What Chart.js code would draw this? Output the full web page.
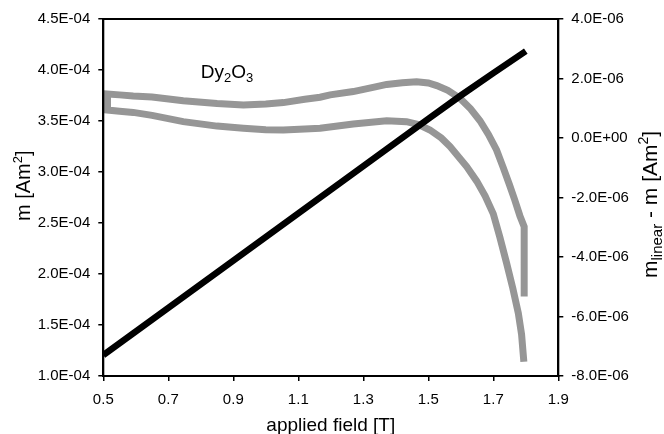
<!DOCTYPE html>
<html>
<head>
<meta charset="utf-8">
<script src="https://cdn.jsdelivr.net/npm/chart.js@4/dist/chart.umd.min.js"></script>
<style>
html,body{margin:0;padding:0;background:#fff;}
#wrap{width:664px;height:434px;}
</style>
</head>
<body>
<div id="wrap"><canvas id="c" width="664" height="434"></canvas></div>
<script>
// ---- data ----
const xTicks = [0.5, 0.7, 0.9, 1.1, 1.3, 1.5, 1.7, 1.9];
const leftTicks = [1.0e-4, 1.5e-4, 2.0e-4, 2.5e-4, 3.0e-4, 3.5e-4, 4.0e-4, 4.5e-4];
const rightTicks = [-8e-6, -6e-6, -4e-6, -2e-6, 0, 2e-6, 4e-6];

// measured moment m [Am^2] vs applied field [T]
const mField = [0.5, 0.7, 0.9, 1.1, 1.3, 1.5, 1.6, 1.7, 1.8];
const mValue = [1.205e-4, 1.668e-4, 2.131e-4, 2.594e-4, 3.057e-4, 3.52e-4, 3.75e-4, 3.97e-4, 4.185e-4];

// m_linear - m [Am^2] loop (path order: right end up, upper branch down in field, lower branch up in field)
const diffField = [1.795, 1.795, 1.782, 1.765, 1.750, 1.730, 1.710, 1.685, 1.659, 1.630, 1.598, 1.560, 1.526, 1.500, 1.464, 1.420, 1.372, 1.330, 1.269, 1.198, 1.167, 1.120, 1.054, 1.000, 0.931, 0.850, 0.746, 0.650, 0.592, 0.550, 0.513,
                   0.513, 0.550, 0.592, 0.650, 0.746, 0.850, 0.931, 1.000, 1.054, 1.120, 1.167, 1.269, 1.372, 1.433, 1.470, 1.505, 1.540, 1.567, 1.618, 1.649, 1.675, 1.700, 1.720, 1.741, 1.760, 1.777, 1.787, 1.794];
const diffValue = [-5.33e-6, -2.98e-6, -2.62e-6, -2.05e-6, -1.58e-6, -0.98e-6, -0.40e-6, 0.12e-6, 0.58e-6, 0.98e-6, 1.33e-6, 1.60e-6, 1.76e-6, 1.85e-6, 1.89e-6, 1.86e-6, 1.80e-6, 1.70e-6, 1.56e-6, 1.45e-6, 1.37e-6, 1.30e-6, 1.19e-6, 1.14e-6, 1.11e-6, 1.16e-6, 1.25e-6, 1.38e-6, 1.41e-6, 1.45e-6, 1.48e-6,
                   0.94e-6, 0.90e-6, 0.86e-6, 0.76e-6, 0.55e-6, 0.40e-6, 0.33e-6, 0.28e-6, 0.27e-6, 0.30e-6, 0.33e-6, 0.47e-6, 0.58e-6, 0.55e-6, 0.45e-6, 0.27e-6, 0.00e-6, -0.29e-6, -0.96e-6, -1.45e-6, -1.95e-6, -2.55e-6, -3.33e-6, -4.21e-6, -5.05e-6, -5.89e-6, -6.60e-6, -7.52e-6];

const sampleLabel = {field: 0.8, m: 3.92e-4};

// ---- helpers ----
const FONT = "'Liberation Sans', Arial, Helvetica, sans-serif";
function fmtE(v) {
  if (Math.abs(v) < 1e-12) return '0.0E+00';
  const s = v.toExponential(1);
  const parts = s.split('e');
  const sign = parts[1][0] === '-' ? '-' : '+';
  const digits = parts[1].replace(/[+-]/, '');
  return parts[0] + 'E' + sign + digits.padStart(2, '0');
}
function pts(xs, ys) { return xs.map((x, i) => ({x: x, y: ys[i]})); }

function drawRuns(ctx, runs, x, y) {
  let cx = x;
  for (const r of runs) {
    ctx.font = r.size + 'px ' + FONT;
    ctx.fillText(r.t, cx, y + (r.dy || 0));
    cx += ctx.measureText(r.t).width;
  }
  return cx - x;
}
function runsWidth(ctx, runs) {
  let w = 0;
  for (const r of runs) { ctx.font = r.size + 'px ' + FONT; w += ctx.measureText(r.t).width; }
  return w;
}

const textPlugin = {
  id: 'texts',
  afterDraw(chart) {
    const ctx = chart.ctx;
    const a = chart.chartArea;
    ctx.save();
    // frame
    ctx.strokeStyle = '#000';
    ctx.lineWidth = 2;
    ctx.strokeRect(a.left, a.top, a.right - a.left, a.bottom - a.top);
    ctx.fillStyle = '#000';
    ctx.textBaseline = 'alphabetic';
    ctx.textAlign = 'left';
    // x title
    ctx.font = '19px ' + FONT;
    const xt = 'applied field [T]';
    const xw = ctx.measureText(xt).width;
    ctx.fillText(xt, (a.left + a.right) / 2 - xw / 2, 430.5);
    // left title (rotated)
    const lRuns = [{t: 'm [Am', size: 20}, {t: '2', size: 13, dy: -8}, {t: ']', size: 20}];
    ctx.save();
    ctx.translate(30, 221);
    ctx.rotate(-Math.PI / 2);
    drawRuns(ctx, lRuns, 0, 0);
    ctx.restore();
    // right title (rotated)
    const rRuns = [{t: 'm', size: 21}, {t: 'linear', size: 15, dy: 5}, {t: ' - m [Am', size: 21}, {t: '2', size: 14, dy: -9}, {t: ']', size: 21}];
    ctx.save();
    ctx.translate(657, 278);
    ctx.rotate(-Math.PI / 2);
    drawRuns(ctx, rRuns, 0, 0);
    ctx.restore();
    // sample label
    const xs = chart.scales.x, ys = chart.scales.y;
    const lx = xs.getPixelForValue(sampleLabel.field);
    const ly = ys.getPixelForValue(sampleLabel.m);
    drawRuns(ctx, [{t: 'Dy', size: 19}, {t: '2', size: 13, dy: 4}, {t: 'O', size: 19}, {t: '3', size: 13, dy: 4}], lx, ly);
    ctx.restore();
  }
};

const tickFont = {family: FONT, size: 15};
const gridCommon = {drawOnChartArea: false, drawTicks: true, tickLength: 5, color: '#000', lineWidth: 1.5};
const borderCommon = {display: true, color: '#000', width: 2};

new Chart(document.getElementById('c'), {
  type: 'scatter',
  data: {
    datasets: [
      {
        label: 'm',
        data: pts(mField, mValue),
        yAxisID: 'y',
        showLine: true,
        borderColor: '#000',
        backgroundColor: '#000',
        borderWidth: 6.5,
        pointRadius: 0,
        borderCapStyle: 'butt',
        tension: 0
      },
      {
        label: 'mlinear - m',
        data: pts(diffField, diffValue),
        yAxisID: 'y2',
        showLine: true,
        borderColor: '#969696',
        backgroundColor: '#969696',
        borderWidth: 7,
        pointRadius: 0,
        borderCapStyle: 'butt',
        borderJoinStyle: 'miter',
        tension: 0
      }
    ]
  },
  options: {
    responsive: false,
    animation: false,
    devicePixelRatio: 1,
    layout: {padding: {top: 19, left: 0, right: 0, bottom: 0}},
    plugins: {legend: {display: false}, tooltip: {enabled: false}},
    scales: {
      x: {
        type: 'linear', position: 'bottom', min: 0.5, max: 1.9,
        afterBuildTicks: s => { s.ticks = xTicks.map(v => ({value: v})); },
        ticks: {callback: v => Number(v).toFixed(1), font: tickFont, color: '#000', padding: 10, maxRotation: 0, autoSkip: false},
        grid: gridCommon, border: borderCommon,
        afterFit: s => { s.height = 58; }
      },
      y: {
        type: 'linear', position: 'left', min: 1.0e-4, max: 4.5e-4,
        afterBuildTicks: s => { s.ticks = leftTicks.map(v => ({value: v})); },
        ticks: {callback: v => fmtE(v), font: tickFont, color: '#000', padding: 8, autoSkip: false},
        grid: gridCommon, border: borderCommon,
        afterFit: s => { s.width = 103.3; }
      },
      y2: {
        type: 'linear', position: 'right', min: -8e-6, max: 4e-6,
        afterBuildTicks: s => { s.ticks = rightTicks.map(v => ({value: v})); },
        ticks: {callback: v => fmtE(v), font: tickFont, color: '#000', padding: 8, autoSkip: false},
        grid: gridCommon, border: borderCommon,
        afterFit: s => { s.width = 105.7; }
      }
    }
  },
  plugins: [textPlugin]
});
</script>
</body>
</html>
